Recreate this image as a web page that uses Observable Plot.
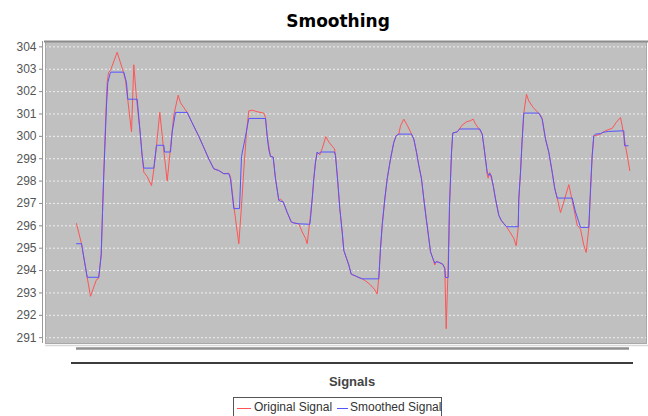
<!DOCTYPE html>
<html>
<head>
<meta charset="utf-8">
<script src="https://cdn.jsdelivr.net/npm/d3@7"></script>
<script src="https://cdn.jsdelivr.net/npm/@observablehq/plot@0.6"></script>
<style>
  html, body { margin: 0; padding: 0; background: #fff; }
  #wrap { position: relative; width: 648px; height: 416px; overflow: hidden; font-family: "Liberation Sans", Arial, sans-serif; }
  #legend { position: absolute; left: 233px; top: 397px; width: 209px; height: 22px; border: 1px solid #555; background: #fff; box-sizing: border-box; font-size: 12px; color: #333; }
  #legend span.item { position: absolute; top: 2px; white-space: nowrap; }
  #legend span.sw { position: absolute; top: 10px; height: 0; border-top: 1px solid; }
</style>
</head>
<body>
<div id="wrap"></div>
<script>
const title = "Smoothing";
const xLabel = "Signals";
const seriesNames = ["Original Signal", "Smoothed Signal"];
const seriesColors = ["#ff5555", "#5555ff"];
const yTicks = [291, 292, 293, 294, 295, 296, 297, 298, 299, 300, 301, 302, 303, 304];

const originalX = [0,5,10.7,14,20,22,24.7,26,27.3,29,30.7,32,34,40.7,46.7,49,55,57.3,60,64,65.7,67.3,70.7,75,77.3,80,83.3,86.7,90.7,94,97.3,101.7,104,110.7,115.7,122.3,128.3,132.3,137.3,142.3,147.3,152.3,154,157.3,162.3,165,167.3,170,172.3,175.7,180.7,187.3,189,190.7,194,196.7,199,202.3,204,206.7,210.7,214.7,217.3,222.3,225.7,229,230.7,233.3,235.7,237.3,239,240.7,243.3,245.7,249.3,252.3,255.7,258,259,261.3,263.3,265.7,267.3,270,272.3,274.7,279,282.3,285.7,289,294,298.3,300.7,302.3,304,305.7,308.3,310.7,314,317.3,319.7,322.3,324,327.3,330.7,334,337.3,340,342.3,345,347.3,349.7,352.3,354,356.3,358.3,359.7,362.3,366.3,368.3,369.7,371.5,373,375,376.3,380.7,385.7,390,394,396.7,399,402.3,405.7,407.3,409,410.7,411.7,413.3,414.7,416.7,419,422.3,424.7,427.3,430,433.3,437.3,439.7,441.7,442.3,444,445.7,447.3,450,452.3,456.7,460.7,464,465.7,469,472.3,475.7,478.3,480.7,484,487.3,492.3,495.7,500.7,504,507.3,509.7,512.3,514,515.7,517.3,520.7,524,529,535.7,539.7,544,545.7,549,553.3];
const originalY = [296.1,295.2,293.7,292.85,293.6,293.65,294.7,296.6,298.4,300.6,302.4,302.85,302.95,303.76,302.9,302.5,300.2,303.2,301.7,300.0,299.1,298.4,298.2,297.8,298.5,299.6,301.07,299.6,298.0,299.5,300.95,301.84,301.5,301.07,300.6,300.0,299.4,298.99,298.55,298.47,298.33,298.35,298.2,296.9,295.2,296.9,298.5,300.2,301.14,301.17,301.1,301.04,300.84,300.0,299.1,299.07,298.1,297.14,297.2,297.07,296.6,296.18,296.13,296.09,295.73,295.44,295.2,296.2,297.2,298.1,298.85,299.3,299.17,299.45,299.99,299.75,299.56,299.44,299.14,297.96,296.77,295.73,294.9,294.55,294.25,293.84,293.76,293.69,293.63,293.54,293.36,293.14,292.95,293.7,294.99,296.03,297.2,298.1,298.99,299.73,300.03,300.1,300.47,300.77,300.5,300.2,299.88,299.29,298.7,298.1,297.2,296.33,295.44,294.84,294.55,294.25,294.4,294.37,294.28,294.1,291.4,294.0,296.9,299.29,300.15,300.2,300.5,300.65,300.7,300.77,300.55,300.35,300.1,299.58,298.99,298.3,298.13,298.38,298.15,297.8,297.2,296.47,296.25,296.1,295.96,295.73,295.44,295.11,295.9,297.2,298.4,299.88,301.04,301.88,301.58,301.29,301.1,300.95,300.77,299.88,299.29,298.4,297.66,297.24,296.59,297.07,297.84,297.14,296.03,295.85,295.14,294.81,295.9,297.5,299.14,300.03,300.05,300.1,300.25,300.36,300.62,300.84,300.47,299.58,298.47];

const smoothedX = [0,5,10.7,22.3,24.7,26,27.3,30,31.3,34,47.3,50,51.3,60.7,64,65.7,67.3,77.3,80,87.3,88,94,95.7,99,110.7,115.7,122.3,128.3,132.3,137.3,142.3,147.3,152.3,154,157.3,163,165,169,172.3,189,190.7,192.3,194,196.7,199,202.3,204,206.7,210.7,214.7,217.3,222.3,233.3,234,235.7,237.3,239,240.7,242.3,244,258,259,261.3,263.3,265.7,267.3,270,272.3,274.7,279,282.3,285.7,302.3,304,305.7,308.3,310.7,314,317.3,319.7,322.3,335,337.3,340,342.3,345,347.3,349.7,352.3,354,356.3,358.3,359.7,362.3,366.3,368.3,369,371.7,373,375,376.3,380.7,383.3,403.3,405.7,407.3,409,410.7,412.3,413.3,414.7,416.7,419,422.3,424.7,427.3,430,441.7,442.3,444,445.7,447.3,462.3,465.7,469,472.3,475.7,478.3,480.7,495.7,499,502.3,504,512.3,514,515.7,517.3,519,524,526.3,532.3,547.3,548,551.7];
const smoothedY = [295.2,295.2,293.7,293.7,294.7,296.6,298.3,301.4,302.4,302.87,302.87,302.4,301.66,301.66,300.0,299.1,298.58,298.58,299.6,299.6,299.3,299.3,300.2,301.07,301.07,300.6,300.0,299.4,298.99,298.55,298.47,298.33,298.33,298.1,296.77,296.77,299.1,300.0,300.8,300.8,300.0,299.4,299.1,299.07,298.1,297.14,297.1,297.07,296.6,296.18,296.13,296.09,296.07,296.33,297.2,298.1,298.85,299.3,299.22,299.3,299.3,299.14,297.96,296.77,295.73,294.9,294.55,294.25,293.84,293.76,293.69,293.63,293.63,294.99,296.03,297.2,298.1,298.99,299.73,300.03,300.1,300.1,299.88,299.29,298.7,298.1,297.2,296.33,295.44,294.84,294.55,294.33,294.4,294.37,294.28,294.1,293.69,293.69,296.9,299.29,300.15,300.2,300.33,300.33,300.1,299.58,298.99,298.4,298.25,298.33,298.25,297.8,297.2,296.47,296.25,296.1,295.96,295.96,297.2,298.4,299.88,301.04,301.04,300.77,299.88,299.29,298.4,297.66,297.24,297.24,296.62,296.18,295.93,295.93,297.66,299.14,300.03,300.1,300.12,300.18,300.22,300.25,299.58,299.58];

const original = originalX.map((x, i) => ({x, y: originalY[i]}));
const smoothed = smoothedX.map((x, i) => ({x, y: smoothedY[i]}));

const chart = Plot.plot({
  width: 648,
  height: 416,
  marginLeft: 45,
  marginRight: 2,
  marginTop: 41,
  marginBottom: 73,
  style: {fontFamily: "'Liberation Sans', Arial, sans-serif", fontSize: "12px", background: "transparent", overflow: "visible"},
  x: {domain: [-31, 570], axis: null},
  y: {domain: [290.74, 304.24], axis: null},
  marks: [
    Plot.frame({fill: "#c0c0c0", stroke: null}),
    Plot.gridY(yTicks, {stroke: "#ffffff", strokeOpacity: 0.75, strokeDasharray: "2,2"}),
    Plot.axisY(yTicks, {anchor: "left", tickSize: 3, tickPadding: 3, dx: -3, stroke: "#888", fill: "#555", fontSize: 12, tickFormat: d => String(d), label: null}),
    Plot.line(original, {x: "x", y: "y", stroke: seriesColors[0], strokeWidth: 1}),
    Plot.line(smoothed, {x: "x", y: "y", stroke: seriesColors[1], strokeWidth: 1}),
    Plot.frame({stroke: "#a8a8a8", strokeWidth: 1})
  ]
});

document.getElementById("wrap").appendChild(chart);

const svg = d3.select(chart);
const xs = chart.scale("x");
const x0 = xs.apply(0), x1 = xs.apply(552);
// top border of plot (darker)
svg.append("line").attr("x1", 44).attr("x2", 648).attr("y1", 41.5).attr("y2", 41.5).attr("stroke", "#8c8c8c").attr("stroke-width", 2);
// vertical axis line
svg.append("line").attr("x1", 42.5).attr("x2", 42.5).attr("y1", 41).attr("y2", 343).attr("stroke", "#999").attr("stroke-width", 1);
// domain-axis lines below plot
svg.append("line").attr("x1", 45).attr("x2", 648).attr("y1", 345.5).attr("y2", 345.5).attr("stroke", "#d8d8d8").attr("stroke-width", 1.5);
svg.append("line").attr("x1", x0).attr("x2", x1 + 1).attr("y1", 348.5).attr("y2", 348.5).attr("stroke", "#909090").attr("stroke-width", 2.5);
svg.append("line").attr("x1", x0 - 5).attr("x2", x1 + 5).attr("y1", 363).attr("y2", 363).attr("stroke", "#3c3c3c").attr("stroke-width", 2);
// title
svg.append("text").attr("x", 338).attr("y", 27).attr("text-anchor", "middle")
  .attr("font-family", "'DejaVu Sans', sans-serif").attr("font-weight", "bold").attr("font-size", 17).attr("fill", "#000").text(title);
// x label
svg.append("text").attr("x", (x0 + x1) / 2).attr("y", 386).attr("text-anchor", "middle")
  .attr("font-family", "'Liberation Sans', Arial, sans-serif").attr("font-weight", "bold").attr("font-size", 13).attr("fill", "#444").text(xLabel);

// legend
const legend = document.createElement("div");
legend.id = "legend";
const offsets = [[3, 20], [103, 116]];
seriesNames.forEach((name, i) => {
  const sw = document.createElement("span");
  sw.className = "sw";
  sw.style.left = offsets[i][0] + "px";
  sw.style.width = (i === 0 ? 14 : 11) + "px";
  sw.style.borderTopColor = seriesColors[i];
  legend.appendChild(sw);
  const t = document.createElement("span");
  t.className = "item";
  t.style.left = offsets[i][1] + "px";
  t.textContent = name;
  legend.appendChild(t);
});
document.getElementById("wrap").appendChild(legend);
</script>
</body>
</html>
